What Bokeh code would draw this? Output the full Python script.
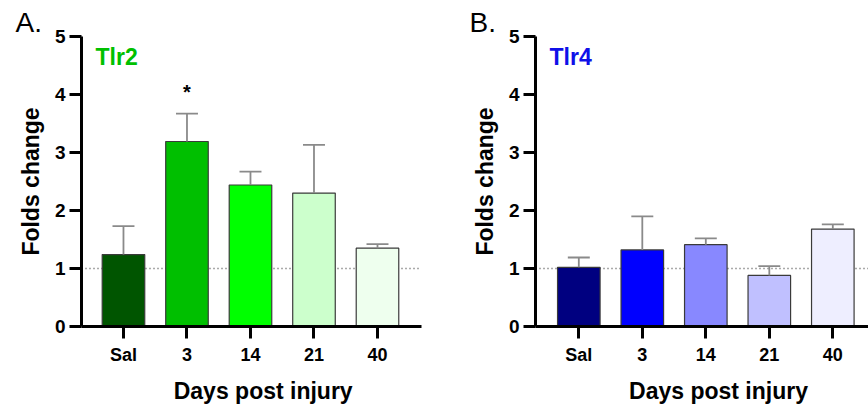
from bokeh.plotting import figure
from bokeh.layouts import row
from bokeh.models import FixedTicker, Span, Label, ColumnDataSource
from bokeh.core.properties import value
from bokeh.embed import file_html
from bokeh.resources import INLINE

# ---- data ----
groups = ["Sal", "3", "14", "21", "40"]
tlr2_mean = [1.24, 3.19, 2.44, 2.30, 1.35]
tlr2_err = [0.49, 0.48, 0.23, 0.83, 0.07]
tlr2_sig = ["", "*", "", "", ""]
tlr2_colors = ["#005500", "#00bf00", "#00ff00", "#ccffcc", "#eeffee"]

tlr4_mean = [1.02, 1.32, 1.41, 0.88, 1.68]
tlr4_err = [0.17, 0.58, 0.11, 0.16, 0.08]
tlr4_sig = ["", "", "", "", ""]
tlr4_colors = ["#000080", "#0000ff", "#8888ff", "#c0c0ff", "#eeeeff"]

y_ticks = [0, 1, 2, 3, 4, 5]
baseline_value = 1
FONT = "Liberation Sans"


def make_panel(letter, gene, gene_color, means, errs, colors, sig,
               x_range, border_left, border_right, width):
    xs = list(range(len(groups)))
    upper = [m + e for m, e in zip(means, errs)]
    src = ColumnDataSource(dict(x=xs, top=means, upper=upper, color=colors,
                                cl=[x - 0.173 for x in xs], cr=[x + 0.173 for x in xs]))
    p = figure(width=width, height=404, x_range=x_range, y_range=(0, 5),
               output_backend="svg", toolbar_location=None,
               min_border_left=border_left, min_border_right=border_right,
               min_border_top=36, min_border_bottom=78)
    p.outline_line_color = None
    p.grid.visible = False
    p.background_fill_color = "white"

    p.add_layout(Span(location=baseline_value, dimension="width", line_color="#555555",
                      line_width=1.3, line_dash="1 3", level="underlay"))

    p.vbar(x="x", top="top", width=0.67, bottom=0, fill_color="color",
           line_color="#3a3a3a", line_width=1.2, source=src)
    p.segment(x0="x", y0="top", x1="x", y1="upper", line_color="#8a8a8a",
              line_width=1.8, source=src)
    p.segment(x0="cl", y0="upper", x1="cr", y1="upper", line_color="#8a8a8a",
              line_width=1.8, source=src)

    star_x = [x for x, s in zip(xs, sig) if s]
    star_y = [u + 0.37 for u, s in zip(upper, sig) if s]
    star_t = [s for s in sig if s]
    if star_x:
        p.text(x=star_x, y=star_y, text=star_t, text_align="center",
               text_baseline="alphabetic", text_font=value(FONT),
               text_font_style="bold", text_font_size="20px", text_color="black")

    # axes
    for ax in (p.xaxis[0], p.yaxis[0]):
        ax.axis_line_width = 3
        ax.axis_line_color = "black"
        ax.major_tick_line_width = 3
        ax.major_tick_line_color = "black"
        ax.major_tick_out = 12
        ax.major_tick_in = 0
        ax.minor_tick_line_color = None
        ax.major_label_text_font = FONT
        ax.major_label_text_font_style = "bold"
        ax.major_label_text_color = "black"
    p.yaxis.ticker = FixedTicker(ticks=y_ticks)
    p.yaxis.major_label_text_font_size = "19px"
    p.yaxis.major_label_standoff = 4
    p.yaxis.axis_label = "Folds change"
    p.yaxis.axis_label_text_font = FONT
    p.yaxis.axis_label_text_font_style = "bold"
    p.yaxis.axis_label_text_font_size = "23px"
    p.yaxis.axis_label_text_color = "black"
    p.yaxis.axis_label_standoff = 8

    p.xaxis.ticker = FixedTicker(ticks=xs)
    p.xaxis.major_label_overrides = {i: g for i, g in enumerate(groups)}
    p.xaxis.major_label_text_font_size = "18px"
    p.xaxis.major_label_standoff = 6

    p.add_layout(Label(x=2.2, y=-1.11, text="Days post injury", text_align="center",
                       text_baseline="alphabetic", text_font=FONT,
                       text_font_style="bold", text_font_size="23px",
                       text_color="black"), "below")
    p.add_layout(Label(x=x_range[0] - 1.04, y=5.24,
                       text=letter, text_align="left", text_baseline="alphabetic",
                       text_font=FONT, text_font_size="28px", text_color="black"), "above")
    p.add_layout(Label(x=14, y=270, x_units="screen", y_units="screen",
                       text=gene, text_align="left", text_baseline="alphabetic",
                       text_font=FONT, text_font_style="bold",
                       text_font_size="23px", text_color=gene_color))
    return p


pa = make_panel("A.", "Tlr2", "#00c000", tlr2_mean, tlr2_err, tlr2_colors, tlr2_sig,
                (-0.661, 4.693), 81, 13, 434)
pb = make_panel("B.", "Tlr4", "#1010e8", tlr4_mean, tlr4_err, tlr4_colors, tlr4_sig,
                (-0.682, 4.562), 101, 0, 434)

layout = row(pa, pb)
open("out.html", "w").write(file_html(layout, INLINE))
